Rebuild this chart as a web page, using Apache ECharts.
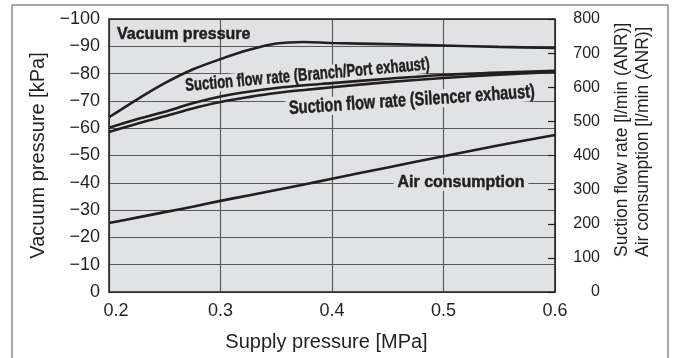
<!DOCTYPE html>
<html>
<head>
<meta charset="utf-8">
<script src="https://cdn.jsdelivr.net/npm/echarts@6/dist/echarts.min.js"></script>
<style>
  html, body { margin: 0; padding: 0; background: #ffffff; }
  #chart { width: 674px; height: 358px; }
</style>
</head>
<body>
<div id="chart"></div>
<script>
// Supply pressure [MPa]
const supplyPressure = [0.2, 0.225, 0.25, 0.275, 0.3, 0.325, 0.35, 0.375, 0.4, 0.45, 0.5, 0.55, 0.6];
// Vacuum pressure [kPa]
const vacuumPressure = [-64, -70.5, -76.5, -81.5, -85.3, -88.6, -91, -91.6, -91.2, -90.8, -90.3, -89.8, -89.4];
// Suction flow rate [l/min (ANR)], branch/port exhaust
const flowBranchPort = [481, 506, 528, 553, 573, 587, 598, 606, 612, 625, 636, 643, 648];
// Suction flow rate [l/min (ANR)], silencer exhaust
const flowSilencer = [469, 493, 515, 538, 557, 571, 583, 592, 600, 615, 627, 637, 645];
// Air consumption [l/min (ANR)]
const airConsumption = [202, 218, 234, 250, 267, 283, 299, 315, 332, 365, 398, 430, 460];

const INK = '#231f20';
const PLOT_BG = '#e1e2e4';
const FONT = '"Liberation Sans", Arial, Helvetica, sans-serif';

function pairs(ys) { return supplyPressure.map((x, i) => [x, ys[i]]); }

const chart = echarts.init(document.getElementById('chart'), null, { renderer: 'canvas' });

const lineStyle = { color: INK, width: 2.6 };
function curve(name, ys, yAxisIndex) {
  return {
    name, type: 'line', yAxisIndex, data: pairs(ys),
    smooth: 0.3, symbol: 'none',
    lineStyle, z: 3, silent: true
  };
}

chart.setOption({
  animation: false,
  backgroundColor: '#ffffff',
  textStyle: { fontFamily: FONT, color: INK },
  grid: {
    left: 109, right: 119, top: 19, bottom: 66,
    show: true, backgroundColor: PLOT_BG, borderWidth: 0
  },
  xAxis: {
    type: 'value', min: 0.2, max: 0.6, interval: 0.1,
    axisLine: { show: false }, axisTick: { show: false },
    splitLine: { show: true, lineStyle: { color: '#5a5a5c', width: 1.2 } },
    axisLabel: {
      fontSize: 18, color: INK, margin: 10, fontFamily: FONT,
      formatter: v => Math.abs(v - 0.2) < 1e-9 ? '{first|0.2}' : v.toFixed(1),
      rich: { first: { fontSize: 18, color: INK, fontFamily: FONT, padding: [0, 0, 0, 14] } }
    },
    name: 'Supply pressure [MPa]', nameLocation: 'middle', nameGap: 40,
    nameTextStyle: { fontSize: 20, color: INK, fontFamily: FONT, padding: [0, 11, 0, 0] }
  },
  yAxis: [
    {
      type: 'value', min: -100, max: 0, interval: 10, inverse: true,
      axisLine: { show: false }, axisTick: { show: false },
      splitLine: { show: true, lineStyle: { color: '#5a5a5c', width: 1.2 } },
      axisLabel: {
        fontSize: 18, color: INK, margin: 9, fontFamily: FONT,
        formatter: v => v < 0 ? '\u2212' + Math.abs(v) : '0'
      },
      name: 'Vacuum pressure [kPa]', nameLocation: 'middle', nameGap: 59,
      nameTextStyle: { fontSize: 20, color: INK, fontFamily: FONT }
    },
    {
      type: 'value', min: 0, max: 800, interval: 100, position: 'right',
      axisLine: { show: false },
      axisTick: { show: true, inside: true, length: 7, lineStyle: { color: INK, width: 1.2 } },
      splitLine: { show: false },
      axisLabel: { fontSize: 16, color: INK, margin: 45, align: 'right', fontFamily: FONT }
    }
  ],
  series: [
    curve('Vacuum pressure', vacuumPressure, 0),
    curve('Suction flow rate (Branch/Port exhaust)', flowBranchPort, 1),
    curve('Suction flow rate (Silencer exhaust)', flowSilencer, 1),
    curve('Air consumption', airConsumption, 1)
  ]
});

// Curve captions, anchored in (supply pressure, kPa) space
const curveLabels = [
  { text: 'Vacuum pressure', at: [0.2072, -94.2], align: 'left', angle: 0, size: 16.5, scaleX: 0.97, bg: false },
  { text: 'Suction flow rate (Branch/Port exhaust)', at: [0.378, -79.4], align: 'center', angle: 5.1, size: 18, scaleX: 0.725, bg: true },
  { text: 'Suction flow rate (Silencer exhaust)', at: [0.4717, -70.2], align: 'center', angle: 3.9, size: 19, scaleX: 0.765, bg: true },
  { text: 'Air consumption', at: [0.5157, -40], align: 'center', angle: 0, size: 17, scaleX: 0.94, bg: true }
];

const toPx = (x, kPa) => chart.convertToPixel({ xAxisIndex: 0, yAxisIndex: 0 }, [x, kPa]);
const topLeft = toPx(0.2, -100);
const bottomRight = toPx(0.6, 0);

const elements = curveLabels.map(l => {
  const p = toPx(l.at[0], l.at[1]);
  return {
    type: 'text', x: p[0], y: p[1], rotation: l.angle * Math.PI / 180,
    scaleX: l.scaleX, z: 2, silent: true,
    style: {
      text: l.text, fill: INK, stroke: INK, lineWidth: 0.5,
      fontFamily: FONT, fontWeight: 'bold', fontSize: l.size,
      align: l.align, verticalAlign: 'middle', lineHeight: Math.round(l.size * 0.95),
      backgroundColor: l.bg ? PLOT_BG : 'transparent', padding: l.bg ? [0, 4, 0, 4] : 0
    }
  };
});

// Plot border on top of the grid lines
elements.push({
  type: 'rect', z: 5, silent: true,
  shape: { x: topLeft[0], y: topLeft[1], width: bottomRight[0] - topLeft[0], height: bottomRight[1] - topLeft[1] },
  style: { fill: 'none', stroke: INK, lineWidth: 1.5 }
});

// Right-hand axis title (two lines, reading upwards)
elements.push({
  type: 'text', x: bottomRight[0] + 77.5, y: bottomRight[1] - 35, rotation: Math.PI / 2, z: 2, silent: true,
  style: {
    text: 'Suction flow rate [l/min (ANR)]\nAir consumption [l/min (ANR)]',
    fill: INK, fontFamily: FONT, fontSize: 17.5, lineHeight: 21,
    align: 'left', verticalAlign: 'middle'
  }
});

// Outer frame
elements.push({
  type: 'rect', z: 5, silent: true,
  shape: { x: 12, y: 5, width: 656, height: 400 },
  style: { fill: 'none', stroke: '#8a8a8a', lineWidth: 1.5 }
});

chart.setOption({ graphic: { elements } });
</script>
</body>
</html>
